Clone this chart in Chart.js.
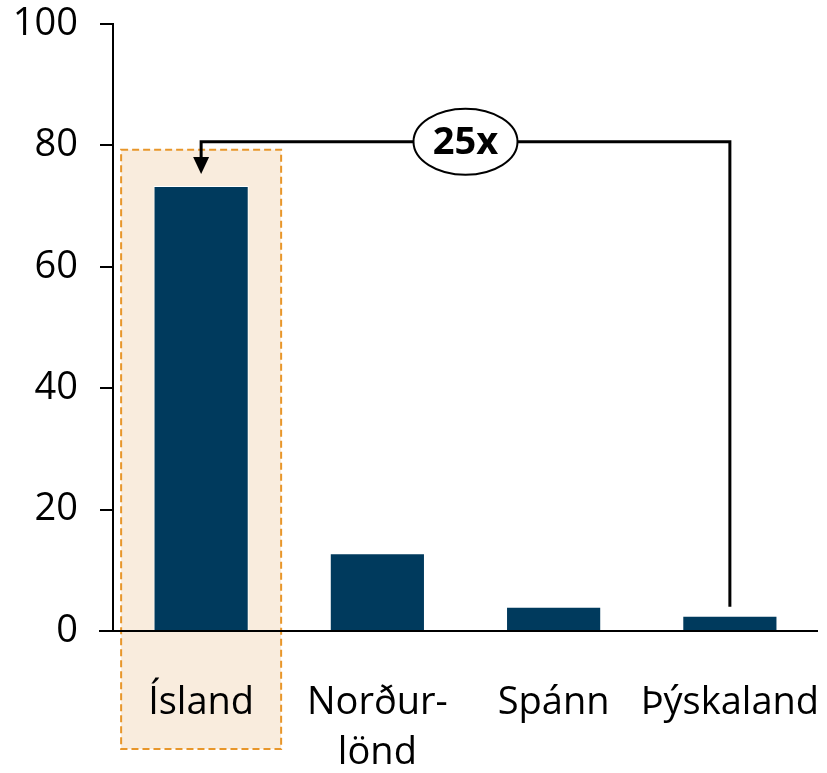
<!DOCTYPE html>
<html>
<head>
<meta charset="utf-8">
<script src="https://cdn.jsdelivr.net/npm/chart.js@4"></script>
<style>
  html, body { margin: 0; padding: 0; background: #fff; }
  #wrap { width: 827px; height: 773px; }
</style>
</head>
<body>
<div id="wrap"><canvas id="chart" width="827" height="773"></canvas></div>
<script>
// data
const categories = ['Ísland', ['Norður-', 'lönd'], 'Spánn', 'Þýskaland'];
const values = [73.3, 12.8, 4.0, 2.5];
const yTicks = [0, 20, 40, 60, 80, 100];
const multipleLabel = '25x';

const barColor = '#003a5d';
const font = '"Open Sans", "Noto Sans", sans-serif';

// highlight box behind Ísland + axis line that runs past the y axis
const highlightPlugin = {
    id: 'highlight',
    beforeDraw(chart) {
        const { ctx, scales: { x, y } } = chart;
        const cx = x.getPixelForValue(0);
        const half = 80;
        const top = y.getPixelForValue(79.3);
        const bottom = chart.height - 24;
        ctx.save();
        ctx.fillStyle = '#f9ecdd';
        ctx.fillRect(cx - half, top, half * 2, bottom - top);
        ctx.strokeStyle = '#e8962a';
        ctx.lineWidth = 2;
        ctx.setLineDash([7, 4]);
        ctx.strokeRect(cx - half, top, half * 2, bottom - top);
        ctx.restore();
    },
    afterDraw(chart) {
        const { ctx, chartArea, scales: { x, y } } = chart;
        ctx.save();
        // x axis line
        ctx.strokeStyle = '#000';
        ctx.lineWidth = 2;
        ctx.beginPath();
        ctx.moveTo(chartArea.left - 14, y.getPixelForValue(0));
        ctx.lineTo(chartArea.right, y.getPixelForValue(0));
        ctx.stroke();

        // bracket from Þýskaland to Ísland
        const x0 = x.getPixelForValue(0);
        const x3 = x.getPixelForValue(3);
        const yTop = y.getPixelForValue(80.6);
        const yStart = y.getPixelForValue(values[3]) - 9;
        const tipY = y.getPixelForValue(75.3);
        ctx.lineWidth = 3;
        ctx.beginPath();
        ctx.moveTo(x3, yStart);
        ctx.lineTo(x3, yTop);
        ctx.lineTo(x0, yTop);
        ctx.lineTo(x0, tipY - 14);
        ctx.stroke();
        ctx.fillStyle = '#000';
        ctx.beginPath();
        ctx.moveTo(x0 - 8, tipY - 17);
        ctx.lineTo(x0 + 8, tipY - 17);
        ctx.lineTo(x0, tipY);
        ctx.closePath();
        ctx.fill();

        // ellipse with the multiple
        const ex = (x0 + x3) / 2;
        ctx.fillStyle = '#fff';
        ctx.lineWidth = 2;
        ctx.beginPath();
        ctx.ellipse(ex, yTop, 52, 33, 0, 0, Math.PI * 2);
        ctx.fill();
        ctx.stroke();
        ctx.fillStyle = '#000';
        ctx.font = 'bold 38px ' + font;
        ctx.textAlign = 'center';
        ctx.textBaseline = 'middle';
        ctx.fillText(multipleLabel, ex, yTop + 1);
        ctx.restore();
    }
};

new Chart(document.getElementById('chart'), {
    type: 'bar',
    data: {
        labels: categories,
        datasets: [{
            data: values,
            backgroundColor: barColor,
            borderColor: '#ffffff',
            borderWidth: 1,
            categoryPercentage: 1,
            barPercentage: 0.54
        }]
    },
    options: {
        responsive: false,
        animation: false,
        layout: { padding: { top: 24, right: 9, left: 0, bottom: 0 } },
        plugins: {
            legend: { display: false },
            tooltip: { enabled: false }
        },
        scales: {
            x: {
                grid: { display: false },
                border: { display: false },
                ticks: {
                    color: '#000',
                    padding: 39,
                    maxRotation: 0,
                    autoSkip: false,
                    font: { family: font, size: 38, lineHeight: 1.32 }
                },
                afterFit(scale) {
                    scale.height = 142;
                    scale.paddingLeft = 0;
                    scale.paddingRight = 0;
                }
            },
            y: {
                min: 0,
                max: 100,
                afterBuildTicks(scale) { scale.ticks = yTicks.map(v => ({ value: v })); },
                grid: {
                    drawOnChartArea: false,
                    drawTicks: true,
                    tickLength: 13,
                    color: '#000',
                    lineWidth: 2
                },
                border: { display: true, color: '#000', width: 2 },
                ticks: {
                    color: '#000',
                    padding: 22,
                    font: { family: font, size: 38 }
                },
                afterFit(scale) {
                    scale.width = 113;
                    scale.paddingTop = 0;
                    scale.paddingBottom = 0;
                }
            }
        }
    },
    plugins: [highlightPlugin]
});
</script>
</body>
</html>
